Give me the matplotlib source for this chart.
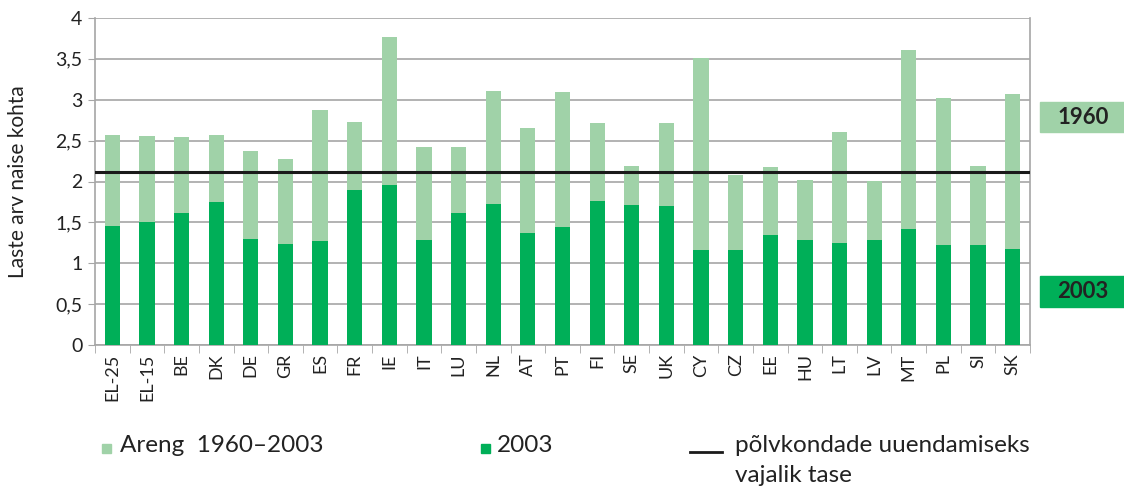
import numpy as np
import matplotlib
matplotlib.use("Agg")
from matplotlib import pyplot as plt
from matplotlib.patches import Rectangle
from matplotlib.lines import Line2D


# data
countries = ["EL-25", "EL-15", "BE", "DK", "DE", "GR", "ES", "FR", "IE", "IT", "LU",
             "NL", "AT", "PT", "FI", "SE", "UK", "CY", "CZ", "EE", "HU", "LT", "LV",
             "MT", "PL", "SI", "SK"]
fert_1960 = [2.57, 2.56, 2.54, 2.57, 2.37, 2.28, 2.88, 2.73, 3.77, 2.42, 2.42,
             3.11, 2.66, 3.10, 2.71, 2.19, 2.71, 3.51, 2.08, 2.18, 2.02, 2.61, 2.01,
             3.61, 3.02, 2.19, 3.07]
fert_2003 = [1.45, 1.51, 1.61, 1.75, 1.30, 1.24, 1.27, 1.90, 1.96, 1.29, 1.62,
             1.72, 1.37, 1.44, 1.76, 1.71, 1.70, 1.16, 1.16, 1.35, 1.28, 1.25, 1.28,
             1.42, 1.22, 1.22, 1.18]
replacement_level = 2.12
y_ticks = [0, 0.5, 1, 1.5, 2, 2.5, 3, 3.5, 4]
y_tick_labels = ["0", "0,5", "1", "1,5", "2", "2,5", "3", "3,5", "4"]

LIGHT = "#a0d2a8"
DARK = "#00af58"
GRID = "#a6a6a6"
TXT = "#222222"

plt.rcParams["font.family"] = ["Lato", "DejaVu Sans"]

W, H = 1124, 488
fig = plt.figure(figsize=(W / 100, H / 100), dpi=100)
ax = fig.add_axes([95 / W, 143 / H, 935 / W, 327 / H])

x = np.arange(len(countries))
diff = np.array(fert_1960) - np.array(fert_2003)
ax.bar(x, fert_2003, width=0.44, color=DARK, zorder=3)
ax.bar(x, diff, bottom=fert_2003, width=0.44, color=LIGHT, zorder=3)
ax.axhline(replacement_level, color="#1a1a1a", lw=2.2, zorder=4)

ax.set_xlim(-0.5, len(countries) - 0.5)
ax.set_ylim(0, 4)
ax.set_yticks(y_ticks)
ax.set_yticklabels(y_tick_labels, fontsize=14, color=TXT)
ax.yaxis.grid(True, color=GRID, lw=1.2, zorder=0)
ax.tick_params(axis="y", length=5, color=GRID, pad=4)

# category labels in the middle, tick marks on the boundaries
ax.set_xticks(x)
ax.set_xticklabels(countries, rotation=90, fontsize=13, color=TXT)
ax.tick_params(axis="x", which="major", length=0, pad=6)
ax.set_xticks(np.arange(-0.5, len(countries)), minor=True)
ax.tick_params(axis="x", which="minor", length=6, color=GRID)

for side in ["left", "right", "bottom", "top"]:
    ax.spines[side].set_color(GRID)
    ax.spines[side].set_linewidth(1.2)
ax.spines["top"].set_visible(False)

ax.set_ylabel("Laste arv naise kohta", fontsize=15, color=TXT, labelpad=20)

# year boxes on the right
for label, color, top, bottom in [("1960", LIGHT, 102, 132), ("2003", DARK, 276, 307)]:
    fig.patches.append(Rectangle((1040 / W, 1 - bottom / H), 84 / W, (bottom - top) / H,
                                 transform=fig.transFigure, color=color))
    fig.text(1083 / W, 1 - (top + bottom) / 2 / H, label, fontsize=16, fontweight="bold",
             ha="center", va="center", color=TXT)

# legend below the chart
fig.patches.append(Rectangle((102 / W, 1 - 453 / H), 9 / W, 9 / H,
                             transform=fig.transFigure, color=LIGHT))
fig.text(120 / W, 1 - 445 / H, "Areng  1960\u20132003", fontsize=17.5,
         va="center", color=TXT)
fig.patches.append(Rectangle((481 / W, 1 - 453 / H), 9 / W, 9 / H,
                             transform=fig.transFigure, color=DARK))
fig.text(497 / W, 1 - 445 / H, "2003", fontsize=17.5, va="center", color=TXT)
fig.lines.append(Line2D([690 / W, 722 / W], [1 - 452 / H, 1 - 452 / H],
                        transform=fig.transFigure, color="#1a1a1a", lw=2))
fig.text(735 / W, 1 - 445 / H, "põlvkondade uuendamiseks", fontsize=17.5,
         va="center", color=TXT)
fig.text(735 / W, 1 - 476 / H, "vajalik tase", fontsize=17.5,
         va="center", color=TXT)

fig.savefig("out.png", dpi=100)
